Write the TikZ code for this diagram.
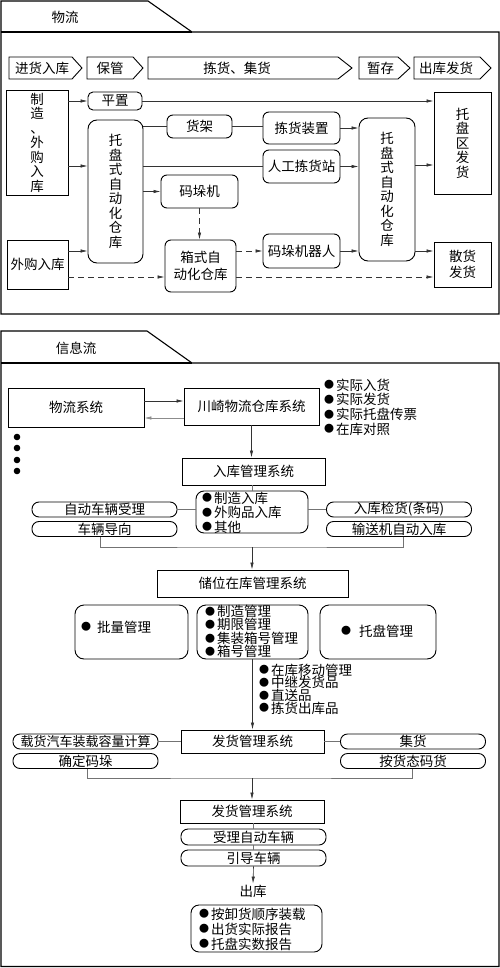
\documentclass[tikz,border=0pt]{standalone}
\usepackage{fontspec}
\setmainfont{Noto Sans CJK SC}
\usetikzlibrary{arrows.meta}
\newcommand\bul{\raisebox{1.2pt}{\fontsize{10}{10}\selectfont ●}\kern2pt}
\newcommand\stagebox[6]{%
  \draw[box] (#2,57) -- (#3,57) -- (#4,68) -- (#3,79) -- (#2,79) -- cycle;
  \node (#1) at (#5,68) {#6};}
\begin{document}
\begin{tikzpicture}[x=1pt,y=-1pt,
  font=\fontsize{13.5}{16}\selectfont,
  box/.style={draw,line width=0.9pt,inner sep=0pt},
  rbox/.style={box,rounded corners=6pt},
  pill/.style={box,rounded corners=7pt,minimum width=145pt,minimum height=15pt},
  vtext/.style={align=center,font=\fontsize{13.5}{14.5}\selectfont},
  arr/.style={-{Latex[length=7pt,width=3.4pt]},line width=0.6pt,black!80},
  darr/.style={arr,dash pattern=on 6pt off 4pt},
  link/.style={line width=0.6pt,black!55},
  panel/.style={line width=1.1pt}]
\useasboundingbox (0,0) rectangle (500,968);

% ---------- panel 1 ----------
\draw[panel] (1,1) -- (148,1) -- (192,32) -- (499,32) -- (499,314) -- (1,314) -- cycle;
\draw[panel] (1,32) -- (192,32);
\node (t1) at (65,17) {物流};

\stagebox{s1}{9}{72}{82}{42}{进货入库}
\stagebox{s2}{87}{133}{143}{110}{保管}
\stagebox{s3}{148}{338}{352}{237}{拣货、集货}
\stagebox{s4}{359}{398}{410}{380.5}{暂存}
\stagebox{s5}{414}{480}{491}{446}{出库发货}

\node[box,minimum width=62pt,minimum height=105pt,vtext] (mfg) at (37,142.5) {制\\造\\、\\外\\购\\入\\库};
\node[box,minimum width=61pt,minimum height=49pt] (wg) at (37.5,264.5) {外购入库};
\node[rbox,rounded corners=5pt,minimum width=54pt,minimum height=18pt] (pz) at (115,101) {平置};
\node[rbox,rounded corners=9pt,minimum width=55pt,minimum height=143pt,vtext] (tpL) at (115.5,191.5) {托\\盘\\式\\自\\动\\化\\仓\\库};
\node[rbox,minimum width=65pt,minimum height=23pt] (hj) at (199.5,126.5) {货架};
\node[rbox,minimum width=77pt,minimum height=32pt] (jhzz) at (301.5,128) {拣货装置};
\node[rbox,minimum width=77pt,minimum height=33pt] (rg) at (301.5,166.5) {人工拣货站};
\node[rbox,minimum width=77pt,minimum height=33pt] (mdj) at (199.5,191.5) {码垛机};
\node[rbox,minimum width=71pt,minimum height=52pt,align=center,font=\fontsize{13.5}{16.5}\selectfont] (xs) at (200.5,266) {箱式自\\动化仓库};
\node[rbox,minimum width=77pt,minimum height=34pt] (mdr) at (301.5,251) {码垛机器人};
\node[rbox,rounded corners=9pt,minimum width=56pt,minimum height=143pt,vtext] (tpR) at (387,189.5) {托\\盘\\式\\自\\动\\化\\仓\\库};
\node[box,minimum width=57pt,minimum height=102pt,vtext] (tpq) at (462.5,143) {托\\盘\\区\\发\\货};
\node[box,minimum width=57pt,minimum height=45pt,align=center] (sh) at (462.5,264.5) {散货\\发货};

\draw[arr] (mfg.east |- pz.west) -- (pz.west);
\draw[arr] (pz.east) -- (pz.east -| tpq.west);
\coordinate (c1) at ([yshift=-23.5pt]mfg.east);
\draw[arr] (c1) -- (c1 -| tpL.west);
\draw[arr,-] (tpL.east |- hj.west) -- (hj.west);
\draw[arr,-] (hj.east) -- (hj.east -| jhzz.west);
\draw[arr] (jhzz.east) -- (jhzz.east -| tpR.west);
\draw[arr,-] (tpL.east |- rg.west) -- (rg.west);
\draw[arr] (rg.east) -- (rg.east -| tpR.west);
\draw[arr] (tpL.east |- mdj.west) -- (mdj.west);
\draw[darr] (mdj.south) -- (mdj.south |- xs.north);
\draw[darr] (xs.east |- mdr.west) -- (mdr.west);
\draw[arr] (mdr.east) -- (mdr.east -| tpR.west);
\coordinate (c2) at ([yshift=24.5pt]tpR.east);
\draw[arr] (c2) -- (c2 -| tpq.west);
\draw[arr] (tpR.east |- mdr.east) -- (sh.west |- mdr.east);
\coordinate (c3) at ([yshift=13.5pt]wg.east);
\draw[arr] (c3) -- (c3 -| tpL.west);
\coordinate (c4) at ([yshift=-12.5pt]wg.east);
\draw[darr] (c4) -- (c4 -| xs.west);
\coordinate (c5) at ([yshift=-11pt]xs.east);
\draw[darr] (c5) -- (c5 -| sh.west);

% ---------- panel 2 ----------
\draw[panel] (1,331) -- (147,331) -- (192,363) -- (499,363) -- (499,966.5) -- (1,966.5) -- cycle;
\draw[panel] (1,363) -- (192,363);
\node (t2) at (76,348) {信息流};

\node[box,minimum width=136pt,minimum height=39pt] (wlxt) at (76,407.5) {物流系统};
\node[box,minimum width=135pt,minimum height=37pt] (cq) at (251.5,406.5) {川崎物流仓库系统};
\coordinate (a1) at ([yshift=6.5pt]wlxt.east);
\draw[arr] (a1) -- (a1 -| cq.west);
\coordinate (a2) at ([yshift=-10.5pt]wlxt.east);
\draw[arr,black!45] (a2 -| cq.west) -- (a2);
\node[anchor=west,align=left,inner sep=0pt,font=\fontsize{13.5}{14.7}\selectfont] (l1) at (324,407) {\bul 实际入货\\\bul 实际发货\\\bul 实际托盘传票\\\bul 在库对照};
\foreach \yy in {437,448,460,471} \fill (17,\yy) circle (3.3pt);

\node[box,minimum width=143pt,minimum height=27pt] (rk) at (253.5,471.5) {入库管理系统};
\draw[arr] (cq.south) -- (cq.south |- rk.north);
\node[rbox,rounded corners=8pt,minimum width=112pt,minimum height=42pt] (rkb) at (252,512) {};
\node[anchor=west,align=left,inner sep=0pt,font=\fontsize{13.5}{14.5}\selectfont] (l2) at (202,512.5) {\bul 制造入库\\\bul 外购品入库\\\bul 其他};
\draw[link] (rk.south -| rkb.north) -- (rkb.north);
\node[pill] (p1) at (104.5,509.5) {自动车辆受理};
\node[pill] (p2) at (104.5,529) {车辆导向};
\node[pill] (p3) at (399,509.5) {入库检货(条码)};
\node[pill] (p4) at (399,529) {输送机自动入库};
\draw[link] (p1.east) -- (p1.east -| rkb.west);
\draw[link] (rkb.east |- p3.west) -- (p3.west);
\coordinate (b1) at (252,547);
\draw[link] ([xshift=-4.5pt]p2.south) |- (b1) -| ([xshift=4pt]p4.south);
\node[box,minimum width=191pt,minimum height=27pt] (cw) at (252.5,583.5) {储位在库管理系统};
\draw[arr] (b1) -- (b1 |- cw.north);

\node[rbox,rounded corners=9pt,minimum width=113pt,minimum height=54pt] (g1) at (131.5,632) {};
\node[rbox,rounded corners=9pt,minimum width=111pt,minimum height=54pt] (g2) at (252.5,632) {};
\node[rbox,rounded corners=9pt,minimum width=116pt,minimum height=54pt] (g3) at (378,632) {};
\node[anchor=west,inner sep=0pt] (g1t) at (81,627) {\bul\kern4pt 批量管理};
\node[anchor=west,inner sep=0pt] (g3t) at (341,631) {\bul\kern6pt 托盘管理};
\node[anchor=west,align=left,inner sep=0pt,font=\fontsize{13.5}{12.4}\selectfont] (g2t) at (205,631.5) {\bul 制造管理\\\bul 期限管理\\\bul 集装箱号管理\\\bul 箱号管理};

\node[box,minimum width=143pt,minimum height=23pt] (fh1) at (252.5,741.5) {发货管理系统};
\draw[arr] (g2.south) -- (g2.south |- fh1.north);
\node[anchor=west,align=left,inner sep=0pt,font=\fontsize{13.5}{12.7}\selectfont] (l3) at (259,689) {\bul 在库移动管理\\\bul 中继发货品\\\bul 直送品\\\bul 拣货出库品};

\node[pill,font=\fontsize{13}{15}\selectfont] (q1) at (85.5,741.5) {载货汽车装载容量计算};
\node[pill] (q2) at (85.5,761) {确定码垛};
\node[pill] (q3) at (413,741.5) {集货};
\node[pill] (q4) at (413,761) {按货态码货};
\draw[link] (q1.east) -- (q1.east -| fh1.west);
\draw[link] (fh1.east) -- (fh1.east -| q3.west);
\coordinate (b2) at (252,778);
\draw[link] ([xshift=1.5pt]q2.south) |- (b2) -| ([xshift=-1pt]q4.south);

\node[box,minimum width=144pt,minimum height=23pt] (fh2) at (252,811.5) {发货管理系统};
\draw[arr] (b2) -- (b2 |- fh2.north);
\node[pill,minimum height=16pt] (r1) at (253.5,837) {受理自动车辆};
\node[pill,minimum height=16pt] (r2) at (253.5,858) {引导车辆};
\draw[link] (fh2.south -| r1.north) -- (r1.north);
\draw[link] (r1.south) -- (r2.north);
\node[inner sep=1pt] (ck) at (253,891) {出库};
\draw[arr] (r2.south) -- (ck.north);

\node[rbox,rounded corners=8pt,minimum width=131pt,minimum height=47pt] (zz) at (256.5,928.5) {};
\node[anchor=west,align=left,inner sep=0pt,font=\fontsize{13.5}{15}\selectfont] (l4) at (199,929) {\bul 按卸货顺序装载\\\bul 出货实际报告\\\bul 托盘实数报告};
\end{tikzpicture}
\end{document}
